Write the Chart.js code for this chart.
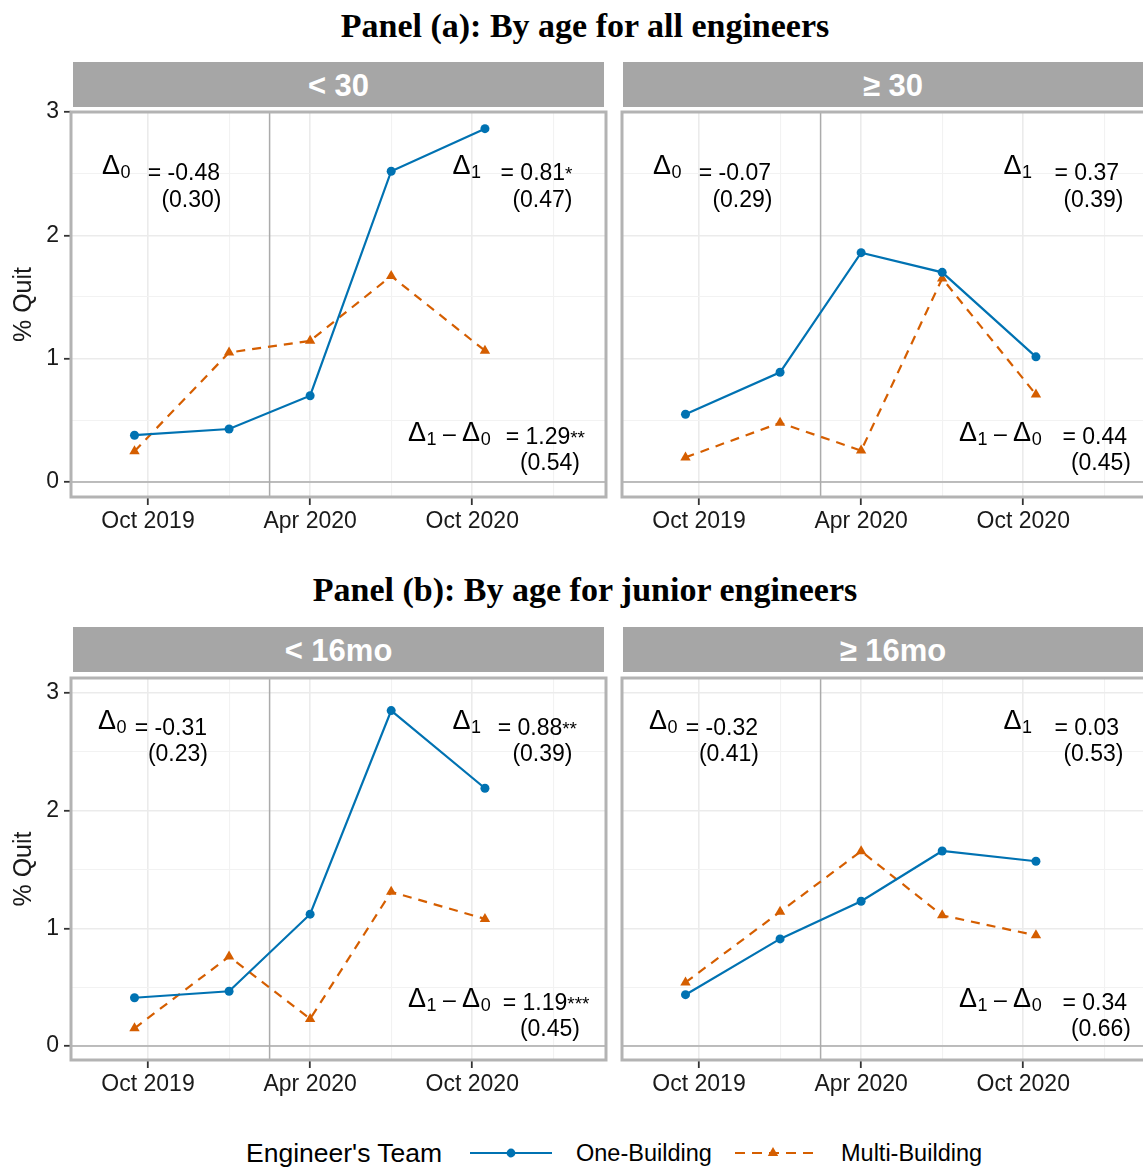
<!DOCTYPE html>
<html>
<head>
<meta charset="utf-8">
<title>Quit rates by age</title>
<script src="https://cdn.jsdelivr.net/npm/chart.js@4.4.1/dist/chart.umd.min.js"></script>
<style>
  html, body { margin: 0; padding: 0; background: #fff; overflow: hidden; }
  body { position: relative; width: 1143px; height: 1167px; }
  .title { position: absolute; left: 0; width: 1170px; text-align: center;
           font-family: "Liberation Serif", "DejaVu Serif", serif; font-weight: bold;
           font-size: 34px; line-height: 40px; color: #000; }
  .strip { position: absolute; height: 45px; background: #a6a6a6; color: #fff;
           font-family: "Liberation Sans", Arial, sans-serif; font-weight: bold;
           font-size: 31px; line-height: 47px; text-align: center; }
  canvas { position: absolute; }
  .leg { position: absolute; top: 1138px; font-family: "Liberation Sans", Arial, sans-serif;
         color: #000; line-height: 30px; white-space: nowrap; font-size: 23.5px; }
  .legline { position: absolute; top: 1143px; }
</style>
</head>
<body>
<div class="title" style="top:6px">Panel (a): By age for all engineers</div>
<div class="title" style="top:570px">Panel (b): By age for junior engineers</div>

<div class="leg" style="left:246px;font-size:26.5px">Engineer's Team</div>
<svg class="legline" style="left:470px" width="82" height="20">
  <line x1="0" y1="10" x2="82" y2="10" stroke="#0072B2" stroke-width="2.2"/>
  <circle cx="41" cy="10" r="4.4" fill="#0072B2"/>
</svg>
<div class="leg" style="left:576px">One-Building</div>
<svg class="legline" style="left:735px" width="82" height="20">
  <line x1="0" y1="10" x2="82" y2="10" stroke="#D55E00" stroke-width="2.2" stroke-dasharray="10 7"/>
  <path d="M38 4 L43.2 13 L32.8 13 Z" fill="#D55E00"/>
</svg>
<div class="leg" style="left:841px">Multi-Building</div>

<script>
// x positions are months since Jan 2019 (Oct 2019 = 9)
const quarterMonths = [8.5, 12, 15, 18, 21.47];
const tickMonths = [9, 15, 21];
const tickLabels = ['Oct 2019', 'Apr 2020', 'Oct 2020'];
const gridMonths = [9, 12, 15, 18, 21, 24];
const yTickValues = [0, 1, 2, 3];
const yGridValues = [0, 0.5, 1, 1.5, 2, 2.5, 3];
const covidMonth = 13.5;

const stripLabels = ['< 30', '≥ 30', '< 16mo', '≥ 16mo'];

// % quit per quarter
const oneUnder30 = [0.38, 0.43, 0.70, 2.52, 2.865];
const multiUnder30 = [0.25, 1.05, 1.145, 1.67, 1.065];
const oneOver30 = [0.55, 0.89, 1.86, 1.70, 1.015];
const multiOver30 = [0.20, 0.48, 0.255, 1.65, 0.71];
const oneUnder16 = [0.41, 0.465, 1.12, 2.85, 2.19];
const multiUnder16 = [0.15, 0.76, 0.23, 1.31, 1.08];
const oneOver16 = [0.436, 0.91, 1.23, 1.657, 1.57];
const multiOver16 = [0.54, 1.14, 1.655, 1.11, 0.94];

// estimates printed in each panel
const delta0 = ['-0.48', '-0.07', '-0.31', '-0.32'];
const se0 = ['(0.30)', '(0.29)', '(0.23)', '(0.41)'];
const delta1 = ['0.81', '0.37', '0.88', '0.03'];
const stars1 = ['*', '', '**', ''];
const se1 = ['(0.47)', '(0.39)', '(0.39)', '(0.53)'];
const deltaDiff = ['1.29', '0.44', '1.19', '0.34'];
const starsDiff = ['**', '', '***', ''];
const seDiff = ['(0.54)', '(0.45)', '(0.45)', '(0.66)'];

const BLUE = '#0072B2';
const ORANGE = '#D55E00';
const TXT = '#1a1a1a';
const SANS = '"Liberation Sans", Arial, Helvetica, sans-serif';
const FS = 23;

// layout of the two rows / two columns of facets
const rows = [
    { top: 100, height: 445, padTop: 12, xHeight: 48, yMin: -0.121, yMax: 3.0, stripTop: 62,
      txt: { d0x: 31, d0ValR: 149, d0SeR: 150.5, labY: 62, valY: 68, seY: 95.4, diffLabY: 329, diffValY: 331.5, diffSeY: 358 } },
    { top: 665, height: 445, padTop: 13, xHeight: 50, yMin: -0.119, yMax: 3.127, stripTop: 627,
      txt: { d0x: 27, d0ValR: 136, d0SeR: 137, labY: 51.3, valY: 57, seY: 83.4, diffLabY: 329, diffValY: 331.5, diffSeY: 358 } }
];
const cols = [
    { left: 0, width: 612, yWidth: 71, padRight: 6, showY: true, stripLeft: 73, stripWidth: 531 },
    { left: 612, width: 552, yWidth: 10, padRight: 7, showY: false, stripLeft: 623, stripWidth: 540 }
];

const panelData = [
    [oneUnder30, multiUnder30],
    [oneOver30, multiOver30],
    [oneUnder16, multiUnder16],
    [oneOver16, multiOver16]
];

function toXY(vals) {
    return quarterMonths.map((m, i) => ({ x: m, y: vals[i] }));
}

function deltaLabel(ctx, x, base, subs) {
    subs.forEach((s, i) => {
        if (i > 0) {
            ctx.font = `${FS}px ${SANS}`;
            ctx.fillText(' \u2013 ', x, base);
            x += ctx.measureText(' \u2013 ').width;
        }
        ctx.font = `27px ${SANS}`;
        ctx.fillText('\u0394', x, base);
        x += ctx.measureText('\u0394').width + 0.5;
        ctx.font = `18px ${SANS}`;
        ctx.fillText(s, x, base + 4);
        x += ctx.measureText(s).width;
    });
}

// "= value" with significance stars, right edge placed by star count
function valueText(ctx, right, base, val, stars) {
    ctx.font = `19px ${SANS}`;
    const sw = stars ? ctx.measureText(stars).width : 0;
    ctx.font = `${FS}px ${SANS}`;
    const main = '= ' + val;
    const mw = ctx.measureText(main).width;
    const x0 = right + 4.5 * stars.length - sw - mw;
    ctx.fillText(main, x0, base);
    if (stars) {
        ctx.font = `19px ${SANS}`;
        ctx.fillText(stars, x0 + mw, base);
    }
}

function rightText(ctx, right, base, str) {
    ctx.font = `${FS}px ${SANS}`;
    ctx.fillText(str, right - ctx.measureText(str).width, base);
}

const panelDecor = {
    id: 'panelDecor',
    beforeDatasetsDraw(chart) {
        const { ctx, chartArea: a, scales: { x, y } } = chart;
        ctx.save();
        ctx.strokeStyle = '#ababab';
        ctx.lineWidth = 1.5;
        const y0 = y.getPixelForValue(0);
        ctx.beginPath();
        ctx.moveTo(a.left, y0);
        ctx.lineTo(a.right, y0);
        ctx.stroke();
        const xc = x.getPixelForValue(covidMonth);
        ctx.beginPath();
        ctx.moveTo(xc, a.top);
        ctx.lineTo(xc, a.bottom);
        ctx.stroke();
        ctx.restore();
    },
    afterDraw(chart, args, opts) {
        const { ctx, chartArea: a } = chart;
        const i = opts.idx;
        const t = opts.txt;
        ctx.save();
        // panel border
        ctx.strokeStyle = '#b3b3b3';
        ctx.lineWidth = 3;
        ctx.strokeRect(a.left, a.top, a.right - a.left, a.bottom - a.top);

        ctx.fillStyle = '#000';
        ctx.textAlign = 'left';
        ctx.textBaseline = 'alphabetic';
        const L = a.left, T = a.top;
        // pre-period estimate
        deltaLabel(ctx, L + t.d0x, T + t.labY, ['0']);
        valueText(ctx, L + t.d0ValR, T + t.valY, delta0[i], '');
        rightText(ctx, L + t.d0SeR, T + t.seY, se0[i]);
        // post-period estimate
        deltaLabel(ctx, L + 381.5, T + t.labY, ['1']);
        valueText(ctx, L + 497, T + t.valY, delta1[i], stars1[i]);
        rightText(ctx, L + 501.5, T + t.seY, se1[i]);
        // difference
        deltaLabel(ctx, L + 337, T + t.diffLabY, ['1', '0']);
        valueText(ctx, L + 505, T + t.diffValY, deltaDiff[i], starsDiff[i]);
        rightText(ctx, L + 509, T + t.diffSeY, seDiff[i]);
        ctx.restore();
    }
};

function makePanel(idx) {
    const row = rows[Math.floor(idx / 2)];
    const col = cols[idx % 2];

    const strip = document.createElement('div');
    strip.className = 'strip';
    strip.style.left = col.stripLeft + 'px';
    strip.style.top = row.stripTop + 'px';
    strip.style.width = col.stripWidth + 'px';
    strip.textContent = stripLabels[idx];
    document.body.appendChild(strip);

    const canvas = document.createElement('canvas');
    canvas.width = col.width;
    canvas.height = row.height;
    canvas.style.left = col.left + 'px';
    canvas.style.top = row.top + 'px';
    document.body.appendChild(canvas);

    const [one, multi] = panelData[idx];
    const isMajorX = c => c.tick && tickMonths.includes(c.tick.value);
    const isMajorY = c => c.tick && yTickValues.includes(c.tick.value);

    new Chart(canvas, {
        type: 'line',
        data: {
            datasets: [
                {
                    label: 'One-Building', data: toXY(one),
                    borderColor: BLUE, backgroundColor: BLUE, borderWidth: 2.2,
                    pointStyle: 'circle', pointRadius: 4.5, pointHoverRadius: 4.5,
                    pointBorderWidth: 0, tension: 0
                },
                {
                    label: 'Multi-Building', data: toXY(multi),
                    borderColor: ORANGE, backgroundColor: ORANGE, borderWidth: 2.2,
                    borderDash: [9, 7],
                    pointStyle: 'triangle', pointRadius: 6, pointHoverRadius: 6,
                    pointBorderWidth: 0, tension: 0
                }
            ]
        },
        options: {
            responsive: false,
            animation: false,
            events: [],
            layout: { padding: { top: row.padTop, right: col.padRight, left: 0, bottom: 0 } },
            plugins: {
                legend: { display: false },
                tooltip: { enabled: false },
                panelDecor: { idx: idx, txt: row.txt }
            },
            scales: {
                x: {
                    type: 'linear', min: 6.15, max: 25.95,
                    afterBuildTicks: s => { s.ticks = gridMonths.map(v => ({ value: v })); },
                    afterFit: s => { s.height = row.xHeight; s.paddingLeft = 0; s.paddingRight = 0; },
                    ticks: {
                        autoSkip: false, maxRotation: 0, padding: 3, color: TXT,
                        font: { family: SANS, size: FS },
                        callback: v => {
                            const k = tickMonths.indexOf(v);
                            return k >= 0 ? tickLabels[k] : '';
                        }
                    },
                    grid: {
                        color: c => isMajorX(c) ? '#ebebeb' : '#f2f2f2',
                        lineWidth: c => isMajorX(c) ? 1.6 : 1.1,
                        tickColor: c => isMajorX(c) ? '#333' : 'rgba(0,0,0,0)',
                        tickLength: 8, tickWidth: 1.8
                    },
                    border: { display: false }
                },
                y: {
                    type: 'linear', min: row.yMin, max: row.yMax,
                    afterBuildTicks: s => {
                        s.ticks = yGridValues.filter(v => v >= s.min && v <= s.max + 1e-9).map(v => ({ value: v }));
                    },
                    afterFit: s => { s.width = col.yWidth; s.paddingTop = 0; s.paddingBottom = 0; },
                    ticks: {
                        display: col.showY, autoSkip: false, padding: 5, color: TXT,
                        font: { family: SANS, size: FS },
                        callback: v => yTickValues.includes(v) ? String(v) : ''
                    },
                    grid: {
                        color: c => isMajorY(c) ? '#ebebeb' : '#f2f2f2',
                        lineWidth: c => isMajorY(c) ? 1.6 : 1.1,
                        tickColor: c => isMajorY(c) ? '#333' : 'rgba(0,0,0,0)',
                        drawTicks: col.showY, tickLength: 7, tickWidth: 1.8
                    },
                    title: {
                        display: col.showY, text: '% Quit', color: TXT,
                        font: { family: SANS, size: 25 },
                        padding: { top: 9, bottom: 0 }
                    },
                    border: { display: false }
                }
            }
        },
        plugins: [panelDecor]
    });
}

[0, 1, 2, 3].forEach(makePanel);
</script>
</body>
</html>
